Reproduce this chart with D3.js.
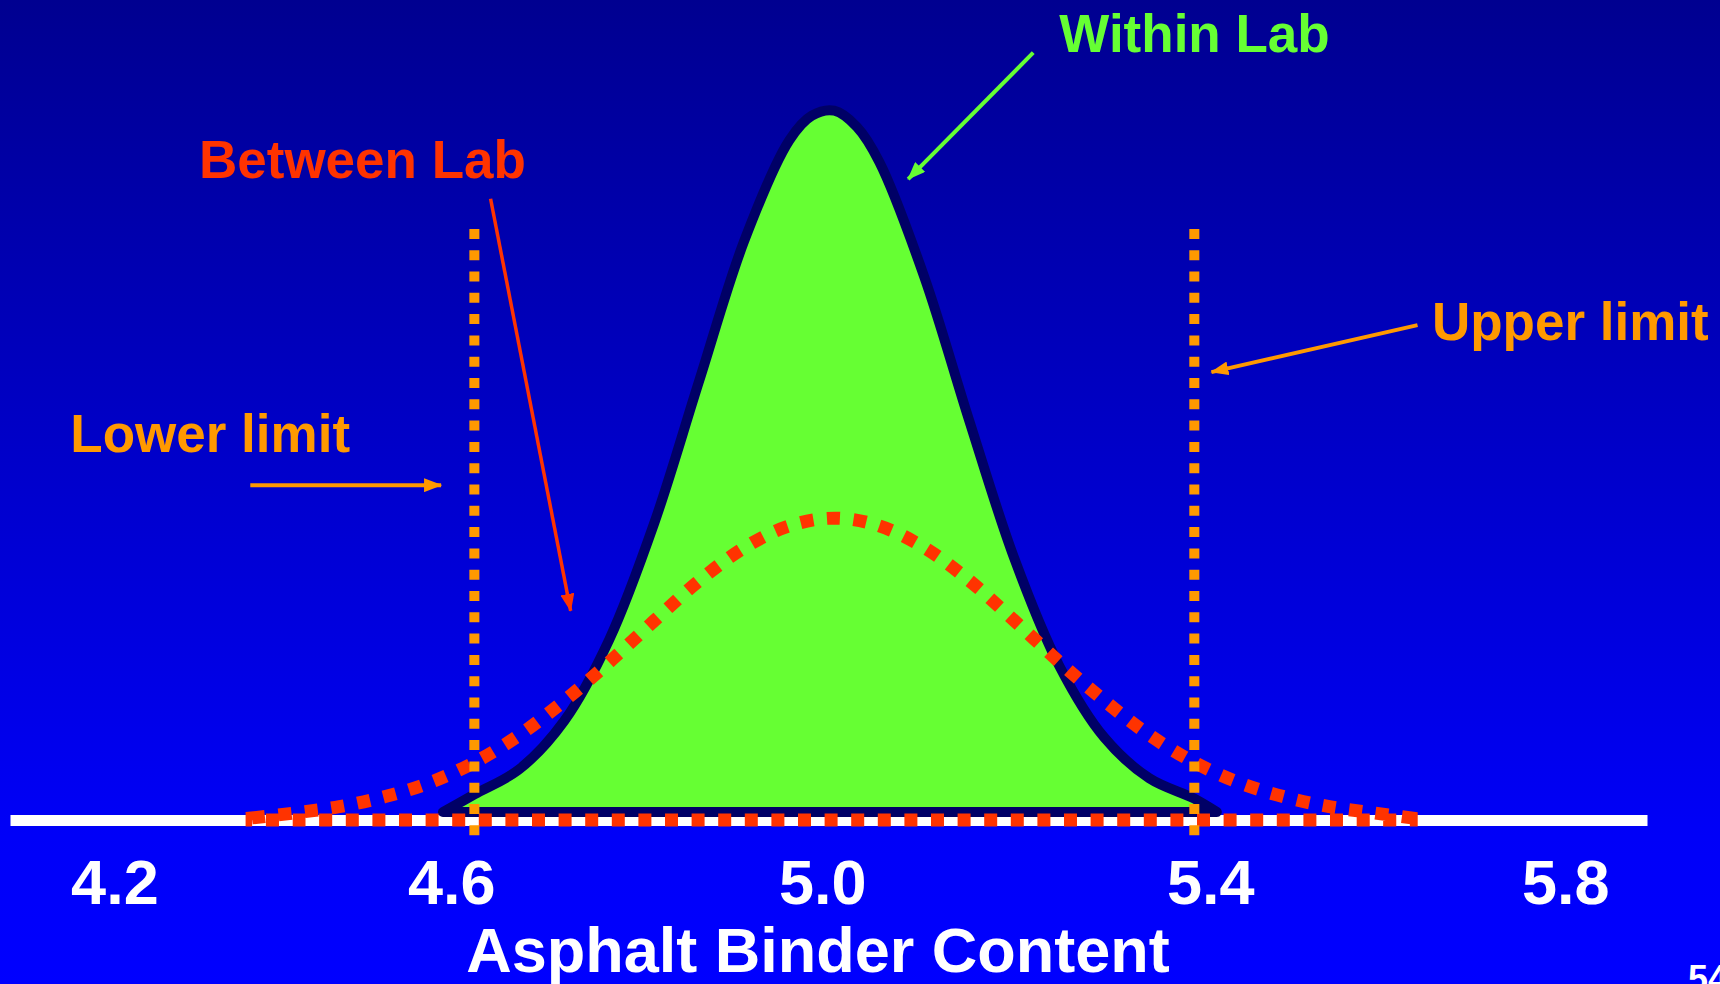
<!DOCTYPE html>
<html>
<head>
<meta charset="utf-8">
<script src="https://cdn.jsdelivr.net/npm/d3@7"></script>
<style>
  html, body { margin: 0; padding: 0; overflow: hidden; background: #0000c0; }
  svg { display: block; }
</style>
</head>
<body>
<svg id="chart" width="1720" height="984"></svg>
<script>
// ---- Data -------------------------------------------------------------
// Asphalt binder content (%) at which each curve is sampled, and its
// relative frequency (peak of the within-lab curve = 100).
const withinLabContent = [4.565, 4.60, 4.65, 4.70, 4.75, 4.80, 4.85, 4.90, 4.95, 4.975,
                          5.00, 5.025, 5.05, 5.10, 5.15, 5.20, 5.25, 5.30, 5.35, 5.40, 5.425];
const withinLabFreq    = [0, 2.5, 6.1, 13.0, 24.6, 41.2, 61.5, 81.4, 95.7, 99.2,
                          99.9, 97.6, 92.6, 76.2, 55.7, 36.1, 20.8, 10.6, 4.8, 1.9, 0];

const betweenLabContent = [4.353, 4.40, 4.45, 4.50, 4.55, 4.60, 4.65, 4.70, 4.75, 4.80,
                           4.85, 4.90, 4.95, 5.00, 5.05, 5.10, 5.15, 5.20, 5.25, 5.30,
                           5.35, 5.40, 5.45, 5.50, 5.55, 5.60, 5.641];
const betweenLabFreq    = [0.3, 1.0, 1.9, 3.3, 5.3, 8.2, 12.1, 17.0, 22.5, 28.4,
                           34.1, 38.8, 41.9, 43.0, 41.9, 38.8, 34.1, 28.4, 22.5, 17.0,
                           12.1, 8.2, 5.3, 3.3, 1.9, 1.0, 0.3];

// Specification limits on binder content
const lowerLimit = 4.6;
const upperLimit = 5.4;

// Axis tick labels
const tickValues = [4.2, 4.6, 5.0, 5.4, 5.8];

// ---- Layout -----------------------------------------------------------
const W = 1720, H = 984;
const FONT = "'Liberation Sans', Arial, Helvetica, sans-serif";
// Hand-placed slide text boxes sit slightly off the exact tick positions
const tickLabelNudge = [0, -23, -12, 16, 11];

const svg = d3.select('#chart');
const defs = svg.append('defs');

// Slide background: dark navy at the top fading to bright blue
const grad = defs.append('linearGradient')
  .attr('id', 'bg').attr('x1', 0).attr('y1', 0).attr('x2', 0).attr('y2', 1);
[[0, '#000090'], [0.45, '#0000c8'], [0.85, '#0000f8'], [1, '#0000ff']]
  .forEach(([o, c]) => grad.append('stop').attr('offset', o).attr('stop-color', c));
svg.append('rect').attr('width', W).attr('height', H).attr('fill', 'url(#bg)');

// Scales
const x = d3.scaleLinear().domain([4.084, 5.903]).range([10, 1647]);
const y = d3.scaleLinear().domain([0, 100]).range([820, 118]);

// Arrowhead markers
function marker(id, color) {
  defs.append('marker')
    .attr('id', id)
    .attr('markerUnits', 'userSpaceOnUse')
    .attr('viewBox', '0 0 18 14')
    .attr('refX', 17).attr('refY', 7)
    .attr('markerWidth', 18).attr('markerHeight', 14)
    .attr('orient', 'auto')
    .append('path').attr('d', 'M0,0 L18,7 L0,14 Z').attr('fill', color);
}
marker('head-green', '#66ff33');
marker('head-red', '#ff3300');
marker('head-orange', '#ff9900');

// ---- X axis (thick white baseline + big bold labels) -------------------
const axis = d3.axisBottom(x)
  .tickValues(tickValues)
  .tickFormat(d3.format('.1f'))
  .tickSize(0)
  .tickSizeOuter(0)
  .tickPadding(39);

const gAxis = svg.append('g')
  .attr('transform', `translate(0,${y(0)})`)
  .call(axis);
gAxis.select('.domain').attr('stroke', '#ffffff').attr('stroke-width', 11);
gAxis.selectAll('.tick text')
  .attr('fill', '#ffffff')
  .attr('font-family', FONT)
  .attr('font-size', 63)
  .attr('font-weight', 'bold')
  .attr('dx', (d, i) => tickLabelNudge[i]);

svg.append('text')
  .attr('x', 818).attr('y', 972)
  .attr('text-anchor', 'middle')
  .attr('font-family', FONT).attr('font-size', 63).attr('font-weight', 'bold')
  .attr('fill', '#ffffff')
  .text('Asphalt Binder Content');

// ---- Within-lab distribution (filled) ---------------------------------
const withinPts = withinLabContent.map((c, i) => ({ c, f: withinLabFreq[i] }));
const betweenPts = betweenLabContent.map((c, i) => ({ c, f: betweenLabFreq[i] }));

const area = d3.area()
  .x(d => x(d.c))
  .y0(y(0))
  .y1(d => y(d.f))
  .curve(d3.curveCatmullRom.alpha(0.5));

svg.append('g')
  .attr('transform', 'translate(0,-8)')
  .append('path')
  .datum(withinPts)
  .attr('d', area)
  .attr('fill', '#66ff33')
  .attr('stroke', '#000066')
  .attr('stroke-width', 10)
  .attr('stroke-linejoin', 'round')
  .attr('stroke-linecap', 'round');

// ---- Between-lab distribution (dotted outline) ------------------------
svg.append('path')
  .datum(betweenPts)
  .attr('d', area)
  .attr('fill', 'none')
  .attr('stroke', '#ff3300')
  .attr('stroke-width', 13)
  .attr('stroke-dasharray', '13 13.6');

// ---- Specification limit lines ----------------------------------------
const limitTop = 84.2;   // frequency level where the limit lines start
[lowerLimit, upperLimit].forEach(v => {
  svg.append('line')
    .attr('x1', x(v)).attr('x2', x(v))
    .attr('y1', y(limitTop)).attr('y2', y(0) + 18)
    .attr('stroke', '#ff9900')
    .attr('stroke-width', 10)
    .attr('stroke-dasharray', '10 11.3');
});

// ---- Annotations (positioned in content / frequency units) ------------
const labels = [
  { text: 'Within Lab',  color: '#66ff33', c: 5.250, f: 109.4 },
  { text: 'Between Lab', color: '#ff3300', c: 4.294, f: 91.5 },
  { text: 'Lower limit', color: '#ff9900', c: 4.151, f: 52.4 },
  { text: 'Upper limit', color: '#ff9900', c: 5.664, f: 68.4 }
];
svg.append('g')
  .attr('font-family', FONT).attr('font-size', 53).attr('font-weight', 'bold')
  .selectAll('text').data(labels).join('text')
  .attr('x', d => x(d.c)).attr('y', d => y(d.f))
  .attr('fill', d => d.color)
  .text(d => d.text);

const arrows = [
  { c1: 5.221, f1: 109.3, c2: 5.082, f2: 91.3, color: '#66ff33', head: 'head-green',  w: 4 },
  { c1: 4.618, f1: 88.5,  c2: 4.707, f2: 29.8, color: '#ff3300', head: 'head-red',    w: 3.5 },
  { c1: 4.351, f1: 47.7,  c2: 4.563, f2: 47.7, color: '#ff9900', head: 'head-orange', w: 4 },
  { c1: 5.648, f1: 70.5,  c2: 5.419, f2: 63.8, color: '#ff9900', head: 'head-orange', w: 4 }
];
svg.append('g').selectAll('line').data(arrows).join('line')
  .attr('x1', d => x(d.c1)).attr('y1', d => y(d.f1))
  .attr('x2', d => x(d.c2)).attr('y2', d => y(d.f2))
  .attr('stroke', d => d.color)
  .attr('stroke-width', d => d.w)
  .attr('marker-end', d => `url(#${d.head})`);

// Slide number
svg.append('text')
  .attr('x', 1688).attr('y', 991)
  .attr('font-family', FONT).attr('font-size', 36).attr('font-weight', 'bold')
  .attr('fill', '#ffffff')
  .text('54');
</script>
</body>
</html>
